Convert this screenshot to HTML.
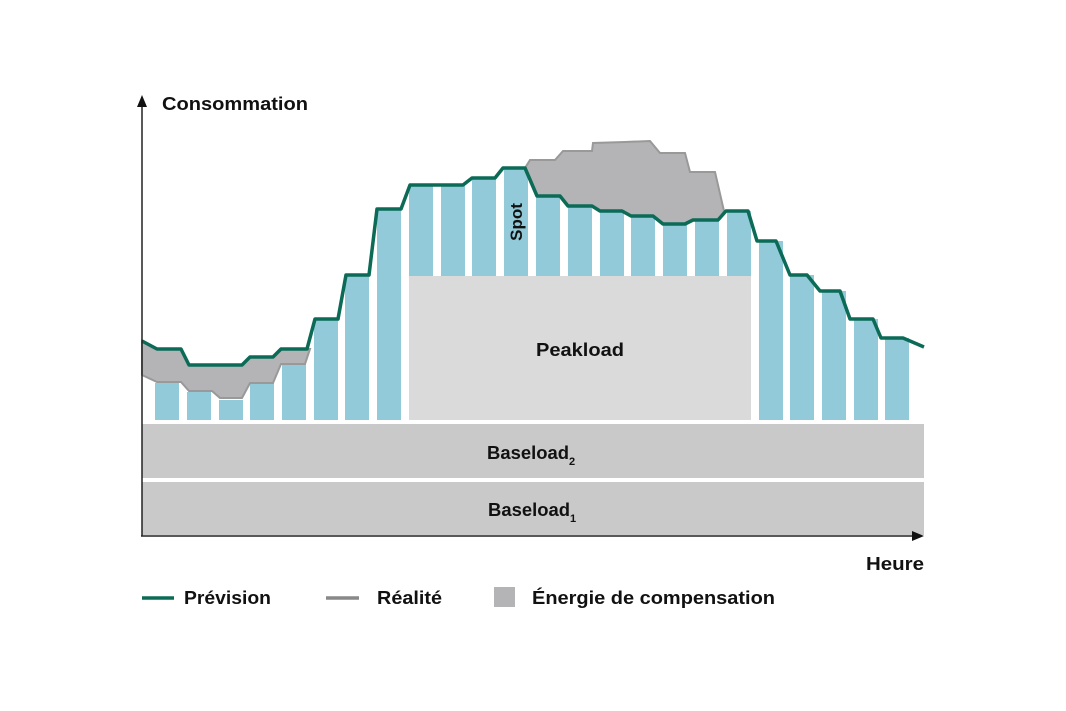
<!DOCTYPE html>
<html><head><meta charset="utf-8"><style>
html,body{margin:0;padding:0;background:#fff;}
svg{display:block;}
text{font-family:"Liberation Sans",sans-serif;font-weight:bold;fill:#111;}
</style></head><body>
<svg width="1066" height="711" viewBox="0 0 1066 711" xmlns="http://www.w3.org/2000/svg">
<rect x="142" y="424" width="782" height="54" fill="#c9c9c9"/>
<rect x="142" y="482" width="782" height="53" fill="#c9c9c9"/>
<rect x="409" y="276" width="342" height="144" fill="#dadada"/>
<g fill="#92cad9">
<rect x="155" y="383" width="24" height="37"/>
<rect x="187" y="392" width="24" height="28"/>
<rect x="219" y="400" width="24" height="20"/>
<rect x="250" y="383" width="24" height="37"/>
<rect x="282" y="364" width="24" height="56"/>
<rect x="314" y="319" width="24" height="101"/>
<rect x="345" y="275" width="24" height="145"/>
<rect x="377" y="209" width="24" height="211"/>
<rect x="409" y="185" width="24" height="91"/>
<rect x="441" y="185" width="24" height="91"/>
<rect x="472" y="178" width="24" height="98"/>
<rect x="504" y="168" width="24" height="108"/>
<rect x="536" y="196" width="24" height="80"/>
<rect x="568" y="206" width="24" height="70"/>
<rect x="600" y="211" width="24" height="65"/>
<rect x="631" y="216" width="24" height="60"/>
<rect x="663" y="224" width="24" height="52"/>
<rect x="695" y="220" width="24" height="56"/>
<rect x="727" y="211" width="24" height="65"/>
<rect x="759" y="241" width="24" height="179"/>
<rect x="790" y="275" width="24" height="145"/>
<rect x="822" y="291" width="24" height="129"/>
<rect x="854" y="319" width="24" height="101"/>
<rect x="885" y="338" width="24" height="82"/>
</g>
<polygon fill="#b4b4b6" stroke="#999" stroke-width="2" points="142,341 157,349 181,349 189,365 242,365 250,357 273,357 281,349 307,349 310,349 305,364 281,364 273,383 250,383 242,398 220,398 212,391 189,391 181,382 157,382 142,375"/>
<polygon fill="#b4b4b6" stroke="#999" stroke-width="2" points="525,168 530,160 555,160 563,151 592,151 593,143 625,142 650,141 660,153 685,153 690,172 715,172 724,211 718,220 693,220 685,224 663,224 653,216 631,216 622,211 600,211 592,206 568,206 560,196 537,196"/>
<polyline fill="none" stroke="#0b6b56" stroke-width="3.5" stroke-linejoin="round" points="142,341 157,349 181,349 189,365 242,365 250,357 273,357 281,349 307,349 315,319 338,319 346,275 369,275 377,209 401,209 410,185 463,185 472,178 495,178 503,168 525,168 537,196 560,196 568,206 592,206 600,211 622,211 631,216 653,216 663,224 685,224 693,220 718,220 726,211 748,211 757,241 776,241 790,275 807,275 820,291 840,291 850,319 873,319 881,338 903,338 924,347"/>
<line x1="142" y1="536" x2="142" y2="104" stroke="#222" stroke-width="1.5"/>
<polygon points="137,107 147,107 142,95" fill="#111"/>
<line x1="141" y1="536" x2="914" y2="536" stroke="#222" stroke-width="1.5"/>
<polygon points="912,531 912,541 924,536" fill="#111"/>
<text x="162" y="110" font-size="18" textLength="146" lengthAdjust="spacingAndGlyphs">Consommation</text>
<text x="866" y="570" font-size="18" textLength="58" lengthAdjust="spacingAndGlyphs">Heure</text>
<text x="536" y="356" font-size="18" textLength="88" lengthAdjust="spacingAndGlyphs">Peakload</text>
<text x="487" y="459" font-size="18"><tspan textLength="82" lengthAdjust="spacingAndGlyphs">Baseload</tspan><tspan font-size="11" dy="6">2</tspan></text>
<text x="488" y="516" font-size="18"><tspan textLength="82" lengthAdjust="spacingAndGlyphs">Baseload</tspan><tspan font-size="11" dy="6">1</tspan></text>
<text transform="translate(522,222) rotate(-90)" font-size="17" text-anchor="middle">Spot</text>
<line x1="142" y1="598" x2="174" y2="598" stroke="#0b6b56" stroke-width="3.5"/>
<text x="184" y="604" font-size="18" textLength="87" lengthAdjust="spacingAndGlyphs">Prévision</text>
<line x1="326" y1="598" x2="359" y2="598" stroke="#888" stroke-width="3.5"/>
<text x="377" y="604" font-size="18" textLength="65" lengthAdjust="spacingAndGlyphs">Réalité</text>
<rect x="494" y="587" width="21" height="20" fill="#b4b4b6"/>
<text x="532" y="604" font-size="18" textLength="243" lengthAdjust="spacingAndGlyphs">Énergie de compensation</text>
</svg>
</body></html>
